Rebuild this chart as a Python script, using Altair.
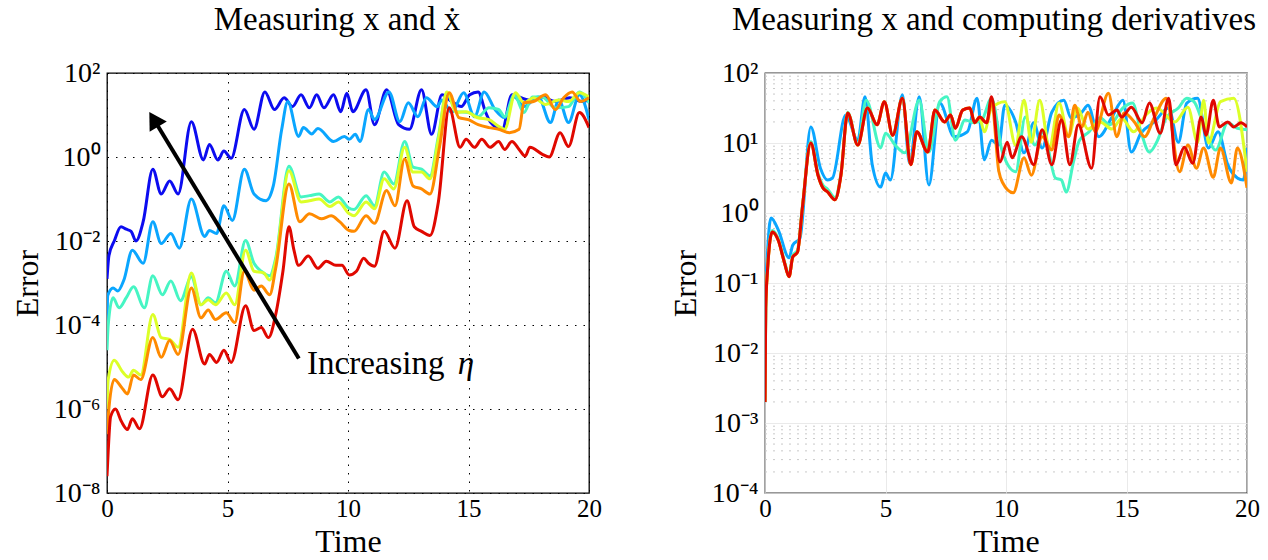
import altair as alt
import pandas as pd

# ---------------- data (y given as log10 of Error) -------------
# Left panel: "Measuring x and x-dot"
L_blue_t = [0, 0.08, 0.3, 0.58, 0.8, 1.0, 1.2, 1.5, 1.9, 2.25, 2.6, 2.95, 3.5, 4.0, 4.25, 4.6, 4.85, 5.15, 5.7, 6.1, 6.55, 6.95, 7.35, 7.7, 8.05, 8.4, 8.7, 9.0, 9.4, 9.7, 9.95, 10.2, 10.75, 11.1, 11.6, 12.1, 12.55, 13.05, 13.47, 13.9, 14.3, 14.7, 15.05, 15.4, 15.7, 15.9, 16.4, 16.8, 17.5, 18.05, 18.6, 19.2, 19.7, 20]
L_blue_e = [-2.9, -2.35, -2.0, -1.66, -1.72, -1.77, -2.0, -1.54, -0.29, -0.88, -0.57, -0.88, 0.84, -0.07, 0.30, -0.07, 0.14, -0.03, 1.13, 0.66, 1.55, 1.13, 1.41, 1.2, 1.48, 1.17, 1.48, 1.17, 1.48, 1.08, 1.52, 1.08, 1.6, 0.77, 1.6, 0.77, 0.66, 1.6, 0.54, 1.48, 1.32, 1.2, 1.48, 1.55, 1.08, 0.84, 0.66, 1.48, 1.36, 1.43, 1.32, 1.41, 1.32, 1.36]

L_lblue_t = [0, 0.03, 0.25, 0.45, 0.7, 1.05, 1.5, 1.9, 2.25, 2.65, 3.0, 3.5, 4.05, 4.25, 4.55, 4.85, 5.2, 5.7, 6.1, 6.6, 6.9, 7.25, 7.5, 7.95, 8.15, 8.5, 8.75, 9.4, 9.85, 10.05, 10.3, 10.5, 10.85, 11.1, 11.7, 12.15, 12.5, 12.9, 13.25, 13.7, 13.9, 14.3, 14.8, 15.25, 15.65, 16.1, 16.5, 16.9, 17.3, 17.9, 18.4, 18.75, 19.15, 19.6, 20]
L_lblue_e = [-4.0, -3.3, -3.12, -3.19, -2.93, -2.22, -2.53, -1.54, -2.06, -1.82, -2.17, -1.0, -1.89, -1.75, -1.82, -1.16, -1.51, -0.29, -0.88, -1.04, -0.69, 0.66, 1.32, 0.49, 0.70, 0.55, 0.68, 0.37, 0.49, 0.42, 0.54, 0.37, 1.13, 0.89, 1.55, 0.84, 1.29, 0.96, 1.41, 1.2, 1.36, 1.06, 1.53, 0.96, 1.55, 1.13, 0.94, 1.43, 1.2, 1.43, 0.82, 1.36, 0.82, 1.48, 0.89]

L_cyan_t = [0, 0.05, 0.25, 0.5, 0.8, 1.1, 1.55, 1.9, 2.3, 2.65, 3.05, 3.5, 3.9, 4.2, 4.5, 4.95, 5.3, 5.75, 6.1, 6.4, 6.75, 7.0, 7.55, 8.05, 8.4, 8.8, 9.25, 9.6, 10.0, 10.25, 10.75, 11.1, 11.5, 11.9, 12.35, 12.7, 13.05, 13.4, 13.75, 14.1, 14.5, 15.0, 15.4, 15.85, 16.25, 16.5, 16.9, 17.3, 17.65, 18.05, 18.6, 19.15, 19.6, 20]
L_cyan_e = [-4.6, -4.0, -3.35, -3.59, -3.35, -3.09, -3.59, -2.83, -3.28, -2.95, -3.42, -2.85, -3.52, -3.35, -3.47, -2.72, -3.07, -1.99, -2.53, -2.72, -2.83, -2.41, -0.22, -0.95, -0.92, -0.88, -1.07, -0.95, -1.2, -1.25, -0.92, -1.16, -0.36, -0.64, 0.37, -0.24, -0.29, -0.45, 0.49, 1.53, 1.08, 1.06, 0.96, 1.17, 1.13, 0.96, 1.48, 1.06, 1.43, 1.43, 1.17, 1.2, 1.55, 1.29]

L_yellow_t = [0, 0.05, 0.3, 0.65, 0.9, 1.1, 1.4, 1.9, 2.25, 2.6, 2.95, 3.5, 3.9, 4.2, 4.5, 4.95, 5.3, 5.75, 6.1, 6.5, 6.75, 7.0, 7.55, 8.05, 8.4, 8.8, 9.25, 9.6, 10.05, 10.25, 10.75, 11.1, 11.5, 11.9, 12.35, 12.7, 13.05, 13.4, 13.75, 14.1, 14.5, 14.9, 15.35, 15.85, 16.25, 16.5, 16.95, 17.3, 17.7, 18.2, 18.75, 19.15, 19.6, 20]
L_yellow_e = [-6.0, -5.3, -4.84, -5.12, -5.24, -5.08, -5.19, -3.75, -4.3, -4.34, -4.53, -2.76, -3.52, -3.4, -3.52, -3.24, -3.52, -2.22, -2.72, -2.76, -2.93, -2.48, -0.33, -1.07, -1.04, -1.0, -1.18, -1.07, -1.35, -1.4, -1.07, -1.23, -0.52, -0.76, 0.23, -0.36, -0.36, -0.52, 0.42, 1.55, 1.06, 1.08, 0.94, 0.89, 0.73, 0.66, 1.53, 1.29, 1.41, 1.25, 1.36, 1.32, 1.53, 1.43]

L_orange_t = [0, 0.05, 0.3, 0.6, 0.85, 1.1, 1.4, 1.9, 2.25, 2.6, 2.95, 3.5, 3.9, 4.2, 4.5, 4.95, 5.3, 5.7, 6.1, 6.4, 6.75, 7.0, 7.55, 8.0, 8.4, 8.9, 9.3, 9.65, 10.05, 10.25, 10.75, 11.1, 11.6, 11.95, 12.35, 12.7, 13.05, 13.4, 13.8, 14.2, 14.6, 15.0, 15.4, 15.85, 16.25, 16.7, 17.1, 17.3, 17.7, 18.2, 18.6, 18.95, 19.3, 19.65, 20]
L_orange_e = [-6.6, -6.18, -5.3, -5.48, -5.64, -5.19, -5.3, -4.3, -4.77, -4.37, -4.7, -3.12, -3.83, -3.64, -3.87, -3.71, -3.94, -2.72, -3.17, -3.07, -3.28, -2.65, -0.64, -1.54, -1.35, -1.47, -1.4, -1.54, -1.75, -1.77, -1.4, -1.58, -0.8, -1.16, -0.05, -0.69, -0.76, -0.88, 0.25, 1.53, 0.94, 0.89, 0.77, 0.70, 0.66, 0.58, 0.66, 1.29, 1.32, 1.48, 1.13, 1.41, 1.55, 1.32, 1.41]

L_red_t = [0, 0.05, 0.15, 0.35, 0.6, 0.85, 1.05, 1.35, 1.9, 2.3, 2.6, 2.95, 3.55, 4.05, 4.25, 4.55, 4.85, 5.15, 5.75, 6.1, 6.4, 6.7, 7.0, 7.3, 7.55, 7.75, 7.95, 8.35, 8.75, 9.1, 9.5, 9.75, 10.05, 10.35, 10.65, 10.85, 11.1, 11.5, 11.95, 12.45, 12.75, 13.05, 13.4, 13.75, 14.2, 14.65, 14.9, 15.25, 15.55, 15.9, 16.25, 16.5, 16.8, 17.1, 17.35, 17.55, 18.05, 18.35, 18.8, 19.15, 19.6, 20]
L_red_e = [-7.6, -7.0, -6.18, -6.0, -6.3, -6.49, -6.23, -6.47, -5.19, -5.71, -5.52, -5.78, -4.1, -4.93, -4.7, -4.89, -4.6, -4.89, -3.54, -4.13, -4.06, -4.3, -3.75, -2.72, -1.66, -2.2, -2.58, -2.36, -2.65, -2.48, -2.58, -2.58, -2.81, -2.72, -2.41, -2.53, -2.6, -1.77, -2.17, -1.04, -1.66, -1.77, -1.87, -1.07, 1.17, 0.23, 0.42, 0.23, 0.42, 0.23, 0.37, 0.18, 0.37, 0.18, 0.02, 0.23, 0.07, 0.0, 0.58, 0.25, 1.06, 0.70]

# Right panel: "Measuring x and computing derivatives"
R_lblue_t = [0, 0.03, 0.1, 0.25, 0.55, 1.0, 1.15, 1.45, 1.9, 2.3, 2.6, 2.8, 3.35, 3.85, 4.15, 4.45, 4.8, 5.0, 5.2, 5.7, 6.0, 6.4, 6.8, 7.25, 7.85, 8.4, 8.8, 9.1, 9.4, 9.7, 9.95, 10.4, 10.75, 11.15, 11.5, 11.9, 12.4, 12.7, 13.15, 13.4, 13.85, 14.4, 14.85, 15.2, 15.6, 16.15, 16.75, 17.15, 17.5, 17.95, 18.4, 18.8, 19.2, 19.6, 19.85, 20]
R_lblue_e = [-2.7, -1.2, -0.6, -0.07, -0.24, -0.64, -0.46, -0.36, 1.23, 0.64, 0.47, 0.5, 1.4, 1.04, 1.66, 0.69, 0.37, 0.57, 0.47, 1.69, 0.71, 1.66, 0.4, 1.57, 1.09, 1.16, 1.64, 0.76, 1.04, 0.97, 1.54, 1.3, 0.86, 1.29, 0.93, 1.44, 1.61, 1.36, 1.44, 1.54, 1.09, 1.37, 1.61, 0.87, 1.14, 1.3, 1.5, 1.01, 1.57, 1.64, 0.93, 1.16, 0.69, 0.5, 0.47, 0.93]

R_cyan_t = [0, 0.03, 0.1, 0.3, 0.55, 0.8, 1.0, 1.15, 1.35, 1.55, 1.9, 2.2, 2.4, 2.6, 2.9, 3.15, 3.43, 3.85, 4.2, 4.8, 5.0, 5.4, 5.8, 6.4, 6.8, 7.25, 7.55, 7.9, 8.3, 8.7, 9.0, 9.4, 9.85, 10.4, 10.8, 11.2, 11.55, 12.05, 12.3, 12.5, 12.8, 13.05, 13.45, 13.9, 14.3, 14.85, 15.25, 15.6, 15.95, 16.25, 16.65, 17.15, 17.5, 17.8, 18.2, 18.7, 19.2, 19.6, 20]
R_cyan_e = [-2.7, -1.3, -0.8, -0.25, -0.37, -0.68, -0.89, -0.61, -0.53, 0.09, 1.02, 0.57, 0.4, 0.34, 0.22, 0.56, 1.44, 0.98, 1.61, 0.93, 1.14, 0.97, 0.86, 1.61, 0.87, 1.59, 1.66, 1.04, 1.33, 1.29, 1.33, 1.64, 0.87, 0.59, 1.37, 0.97, 1.16, 0.5, 0.47, 0.3, 0.73, 1.04, 1.16, 1.36, 1.26, 1.5, 1.57, 1.16, 0.87, 1.01, 1.36, 1.5, 1.64, 1.59, 1.26, 0.9, 1.29, 1.21, 1.19]

R_red_t = [0, 0.03, 0.1, 0.3, 0.55, 0.8, 1.0, 1.15, 1.35, 1.55, 1.9, 2.2, 2.4, 2.6, 2.9, 3.15, 3.43, 3.85, 4.25, 4.65, 4.95, 5.3, 5.7, 6.05, 6.3, 6.75, 7.05, 7.45, 7.7, 7.9, 8.2, 8.5, 8.7, 8.9, 9.2, 9.4, 9.75, 10.05, 10.25, 10.65, 11.15, 11.5, 11.9, 12.3, 12.65, 13.0, 13.55, 13.9, 14.25, 14.6, 14.8, 15.2, 15.65, 15.95, 16.4, 16.75, 17.05, 17.4, 17.75, 18.1, 18.3, 18.6, 18.85, 19.2, 19.45, 19.75, 20]
R_red_e = [-2.7, -1.36, -0.84, -0.27, -0.39, -0.7, -0.91, -0.63, -0.56, 0.07, 1.0, 0.54, 0.36, 0.3, 0.19, 0.54, 1.43, 0.97, 1.5, 1.26, 1.59, 1.11, 1.64, 0.69, 1.16, 0.87, 1.47, 1.3, 1.4, 1.21, 1.47, 1.5, 1.29, 1.37, 1.29, 1.66, 0.73, 1.01, 0.79, 1.09, 0.69, 1.19, 0.69, 1.33, 0.69, 1.26, 0.64, 1.66, 1.4, 1.47, 1.37, 1.51, 1.29, 1.57, 1.14, 1.64, 0.69, 0.94, 0.71, 1.37, 1.11, 1.61, 1.23, 1.3, 1.23, 1.29, 1.23]

# yellow and orange lie under the red curve until about t = 9
R_shared_t = [0, 0.03, 0.1, 0.3, 0.55, 0.8, 1.0, 1.15, 1.35, 1.55, 1.9, 2.2, 2.4, 2.6, 2.9, 3.15, 3.43, 3.85, 4.25, 4.65, 4.95, 5.3, 5.7, 6.05, 6.3, 6.75, 7.05, 7.45, 7.7, 7.9, 8.2, 8.5, 8.7, 8.9]
R_shared_e = [-2.7, -1.36, -0.84, -0.27, -0.39, -0.7, -0.91, -0.63, -0.56, 0.07, 1.0, 0.54, 0.36, 0.3, 0.19, 0.54, 1.43, 0.97, 1.5, 1.26, 1.59, 1.11, 1.64, 0.69, 1.16, 0.87, 1.47, 1.3, 1.4, 1.21, 1.47, 1.5, 1.29, 1.37]

R_yellow_t = R_shared_t + [9.1, 9.4, 9.95, 10.4, 10.75, 11.05, 11.4, 11.8, 12.2, 12.6, 12.95, 13.4, 13.9, 14.4, 14.8, 15.3, 15.8, 16.25, 17.0, 17.55, 17.95, 18.2, 18.4, 18.9, 19.45, 20]
R_yellow_e = R_shared_e + [1.16, 1.5, 1.59, 0.97, 1.61, 1.01, 1.61, 0.94, 1.57, 1.09, 1.5, 1.2, 1.3, 1.2, 1.35, 1.16, 1.4, 1.5, 1.3, 1.51, 1.01, 1.61, 1.0, 1.59, 1.64, 0.59]

R_orange_t = R_shared_t + [9.2, 9.4, 9.7, 9.85, 10.3, 10.75, 11.05, 11.5, 11.9, 12.2, 12.6, 12.85, 13.15, 13.4, 13.7, 14.25, 14.6, 14.9, 15.35, 15.75, 16.15, 16.65, 17.2, 17.55, 17.9, 18.2, 18.6, 18.9, 19.35, 19.6, 20]
R_orange_e = R_shared_e + [1.29, 1.6, 0.6, 0.44, 0.29, 0.79, 0.54, 1.09, 0.9, 1.4, 1.09, 1.54, 1.23, 1.44, 1.16, 1.71, 1.09, 1.43, 1.29, 1.09, 1.36, 1.64, 0.59, 0.97, 0.64, 0.93, 0.51, 0.93, 0.43, 0.93, 0.36]

COLORS = {"blue": "#0c0cf0", "lblue": "#0aa6ff", "cyan": "#46f5c3",
          "yellow": "#dcff28", "orange": "#ff8a00", "red": "#e00800"}

left_series = [("blue", L_blue_t, L_blue_e), ("lblue", L_lblue_t, L_lblue_e),
               ("cyan", L_cyan_t, L_cyan_e), ("yellow", L_yellow_t, L_yellow_e),
               ("orange", L_orange_t, L_orange_e), ("red", L_red_t, L_red_e)]
right_series = [("lblue", R_lblue_t, R_lblue_e), ("cyan", R_cyan_t, R_cyan_e),
                ("yellow", R_yellow_t, R_yellow_e), ("orange", R_orange_t, R_orange_e),
                ("red", R_red_t, R_red_e)]

# arrow annotation (data coordinates): tail, head
arrow_t = [7.96, 1.94]
arrow_err = [1.6e-5, 7.9]
label_word, label_sym = "Increasing", "η"
label_t, label_err = 8.3, 1.2e-5
sym_t = 14.55

FONT = "Liberation Serif"
W, H = 482, 420

label_expr = ("'10' + (round(log(datum.value)/LN10) < 0 ? '⁻' : '') + "
              "substring('⁰¹²³⁴⁵⁶⁷⁸⁹', abs(round(log(datum.value)/LN10)), abs(round(log(datum.value)/LN10)) + 1)")


def xenc(grid_color, grid_dash):
    return alt.X("t:Q", scale=alt.Scale(domain=[0, 20], nice=False, zero=False),
                 axis=alt.Axis(values=[0, 5, 10, 15, 20], title="Time", grid=True,
                               gridColor=grid_color, gridDash=grid_dash, gridWidth=1,
                               ticks=False, domain=False, labelFontSize=25, titleFontSize=32,
                               labelFont=FONT, titleFont=FONT, titleFontWeight="normal",
                               labelColor="black", titleColor="black", labelPadding=3,
                               titlePadding=5, labelFlush=False))


def yenc(domain, values, grid_color, grid_dash):
    return alt.Y("err:Q", scale=alt.Scale(type="log", domain=domain, nice=False),
                 axis=alt.Axis(values=values, labelExpr=label_expr, title="Error", grid=True,
                               gridColor=grid_color, gridDash=grid_dash, gridWidth=1,
                               ticks=False, domain=False, labelFontSize=28, titleFontSize=32,
                               labelFont=FONT, titleFont=FONT, titleFontWeight="normal",
                               labelColor="black", titleColor="black", labelPadding=7,
                               titlePadding=9))


def lines(series, xe, ye):
    layers = []
    for name, ts, es in series:
        df = pd.DataFrame({"t": ts, "err": [10 ** e for e in es]})
        layers.append(alt.Chart(df).mark_line(color=COLORS[name], strokeWidth=3,
                                              interpolate="monotone", clip=True)
                      .encode(x=xe, y=ye))
    return layers


# ---------- left panel ----------
xl = xenc("black", [1.5, 7])
yl = yenc([1e-8, 1e2], [1e-8, 1e-6, 1e-4, 1e-2, 1, 1e2], "black", [1.5, 7])
left_layers = lines(left_series, xl, yl)

arrow_df = pd.DataFrame({"t": arrow_t, "err": arrow_err})
arrow_line = alt.Chart(arrow_df).mark_line(color="black", strokeWidth=4).encode(x=xl, y=yl)
arrow_head = alt.Chart(arrow_df.iloc[[1]]).mark_point(
    shape="triangle-up", filled=True, color="black", size=400, angle=329, opacity=1
).encode(x=xl, y=yl)
label_df = pd.DataFrame({"t": [label_t], "err": [label_err], "txt": [label_word]})
arrow_text = alt.Chart(label_df).mark_text(
    align="left", baseline="middle", font=FONT, fontSize=33, color="black"
).encode(x=xl, y=yl, text="txt:N")
sym_df = pd.DataFrame({"t": [sym_t], "err": [label_err], "txt": [label_sym]})
sym_text = alt.Chart(sym_df).mark_text(
    align="left", baseline="middle", font=FONT, fontSize=33, fontStyle="italic", color="black"
).encode(x=xl, y=yl, text="txt:N")

left = alt.layer(*left_layers, arrow_line, arrow_head, arrow_text, sym_text).properties(
    width=W, height=H,
    title=alt.Title("Measuring x and ẋ", font=FONT, fontSize=33, fontWeight="normal",
                    color="black", offset=22, anchor="middle", dx=-11),
    view=alt.ViewBackground(stroke="black", strokeWidth=1.3),
)

# ---------- right panel ----------
xr = xenc("#e2e2e2", [1, 0])
yr = yenc([1e-4, 1e2], [1e-4, 1e-3, 1e-2, 1e-1, 1, 1e1, 1e2], "#e2e2e2", [1, 0])
minor_vals = [m * 10.0 ** k for k in range(-4, 2) for m in range(2, 10)]
minor_df = pd.DataFrame({"err": minor_vals})
minor_grid = alt.Chart(minor_df).mark_rule(color="#c9c9c9", strokeWidth=1,
                                           strokeDash=[2, 6]).encode(y=yr)
right_layers = lines(right_series, xr, yr)
right = alt.layer(minor_grid, *right_layers).properties(
    width=W, height=H,
    title=alt.Title("Measuring x and computing derivatives", font=FONT, fontSize=33,
                    fontWeight="normal", color="black", offset=22, anchor="middle", dx=-12),
    view=alt.ViewBackground(stroke="#333333", strokeWidth=1.3),
)

chart = alt.hconcat(left, right, spacing=65).properties(
    padding={"left": 10, "top": 3, "right": 4, "bottom": 0}
).configure(font=FONT).configure_view(stroke="black")

chart.save("out.html", embed_options={"renderer": "svg", "actions": False})
